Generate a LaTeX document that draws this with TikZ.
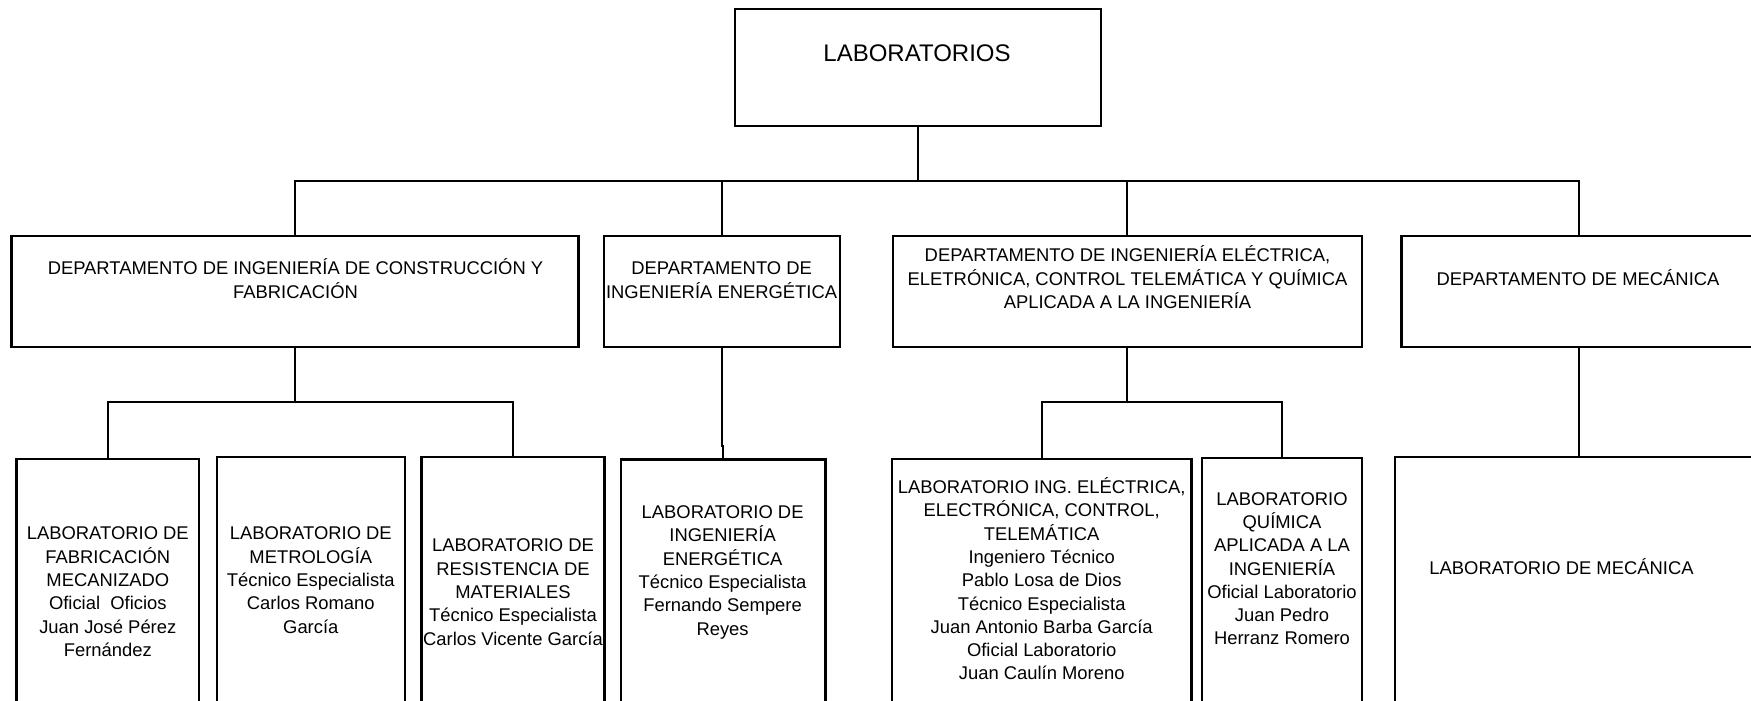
\documentclass[tikz,border=0pt]{standalone}
\usepackage{fontspec}
\setmainfont{Liberation Sans}
\newcommand\lead{\rule{0pt}{17.5pt}}
\begin{document}
\begin{tikzpicture}[x=1pt,y=-1pt,
  box/.style={draw, line width=2.4pt, inner sep=0pt, outer sep=0pt},
  conn/.style={line width=2pt},
  txt/.style={inner sep=0pt, align=center, font=\fontsize{18.4}{23.3}\selectfont, anchor=north},
  one/.style={inner sep=0pt, font=\fontsize{18.4}{23.3}\selectfont, anchor=base},
]
\useasboundingbox (0,0) rectangle (1751,701);
\clip (0,0) rectangle (1751,701);
% boxes
\node[box, minimum width=366pt, minimum height=116.7pt] (top) at (918,67.35) {};
\node[box, minimum width=567.1pt, minimum height=110.7pt] (d1) at (295.05,291.35) {};
\node[box, minimum width=236pt, minimum height=110.7pt] (d2) at (722,291.35) {};
\node[box, minimum width=469.3pt, minimum height=110.7pt] (d3) at (1127.35,291.35) {};
\node[box, minimum width=354pt, minimum height=110.7pt] (d4) at (1578.5,291.35) {};
\node[box, minimum width=182.4pt, minimum height=251.3pt] (l1) at (107.8,584.35) {};
\node[box, minimum width=188.3pt, minimum height=253pt] (l2) at (310.85,583.5) {};
\node[box, minimum width=182.8pt, minimum height=253pt] (l3) at (512.9,583.5) {};
\node[box, minimum width=204.6pt, minimum height=250.7pt] (l4) at (723,584.65) {};
\node[box, minimum width=299.7pt, minimum height=251pt] (l5) at (1041.65,584.5) {};
\node[box, minimum width=160pt, minimum height=252pt] (l6) at (1282,584) {};
\node[box, minimum width=367pt, minimum height=253.3pt] (l7) at (1578.5,583.35) {};
% connectors
\coordinate (bus) at (0,181);
\coordinate (busA) at (0,401.7);
\coordinate (jog) at (0,446);
\draw[conn] (top.south) -- (top.south |- bus);
\draw[conn] (d1.north) -- (d1.north |- bus) -- (d4.north |- bus) -- (d4.north);
\draw[conn] (d2.north) -- (d2.north |- bus);
\draw[conn] (d3.north) -- (d3.north |- bus);
\draw[conn] (d1.south) -- (d1.south |- busA);
\draw[conn] (l1.north) -- (l1.north |- busA) -- (l3.north |- busA) -- (l3.north);
\draw[conn] (d2.south) -- (d2.south |- jog) -- (l4.north |- jog) -- (l4.north);
\draw[conn] (d3.south) -- (d3.south |- busA);
\draw[conn] (l5.north) -- (l5.north |- busA) -- (l6.north |- busA) -- (l6.north);
\draw[conn] (d4.south) -- (l7.north);
% texts
\node[one, font=\fontsize{24}{28}\selectfont] (ttop) at (917,61.3) {LABORATORIOS};
\node[txt] (td1) at (295.5,257.1) {\lead DEPARTAMENTO DE INGENIERÍA DE CONSTRUCCIÓN Y\\FABRICACIÓN};
\node[txt] (td2) at (721.6,257.1) {\lead DEPARTAMENTO DE\\INGENIERÍA ENERGÉTICA};
\node[txt] (td3) at (1127.5,244.1) {\lead DEPARTAMENTO DE INGENIERÍA ELÉCTRICA,\\ELETRÓNICA, CONTROL TELEMÁTICA Y QUÍMICA\\APLICADA A LA INGENIERÍA};
\node[one] (td4) at (1578,285.9) {DEPARTAMENTO DE MECÁNICA};
\node[txt] (tl1) at (107.8,522.1) {\lead LABORATORIO DE\\FABRICACIÓN\\MECANIZADO\\Oficial\ \ Oficios\\Juan José Pérez\\Fernández};
\node[txt] (tl2) at (310.8,522.1) {\lead LABORATORIO DE\\METROLOGÍA\\Técnico Especialista\\Carlos Romano\\García};
\node[txt] (tl3) at (513,534.1) {\lead LABORATORIO DE\\RESISTENCIA DE\\MATERIALES\\Técnico Especialista\\Carlos Vicente García};
\node[txt] (tl4) at (722.6,500.8) {\lead LABORATORIO DE\\INGENIERÍA\\ENERGÉTICA\\Técnico Especialista\\Fernando Sempere\\Reyes};
\node[txt] (tl5) at (1041.7,475.8) {\lead LABORATORIO ING. ELÉCTRICA,\\ELECTRÓNICA, CONTROL,\\TELEMÁTICA\\Ingeniero Técnico\\Pablo Losa de Dios\\Técnico Especialista\\Juan Antonio Barba García\\Oficial Laboratorio\\Juan Caulín Moreno};
\node[txt] (tl6) at (1282,487.4) {\lead LABORATORIO\\QUÍMICA\\APLICADA A LA\\INGENIERÍA\\Oficial Laboratorio\\Juan Pedro\\Herranz Romero};
\node[one] (tl7) at (1561.5,574.9) {LABORATORIO DE MECÁNICA};
\end{tikzpicture}
\end{document}
